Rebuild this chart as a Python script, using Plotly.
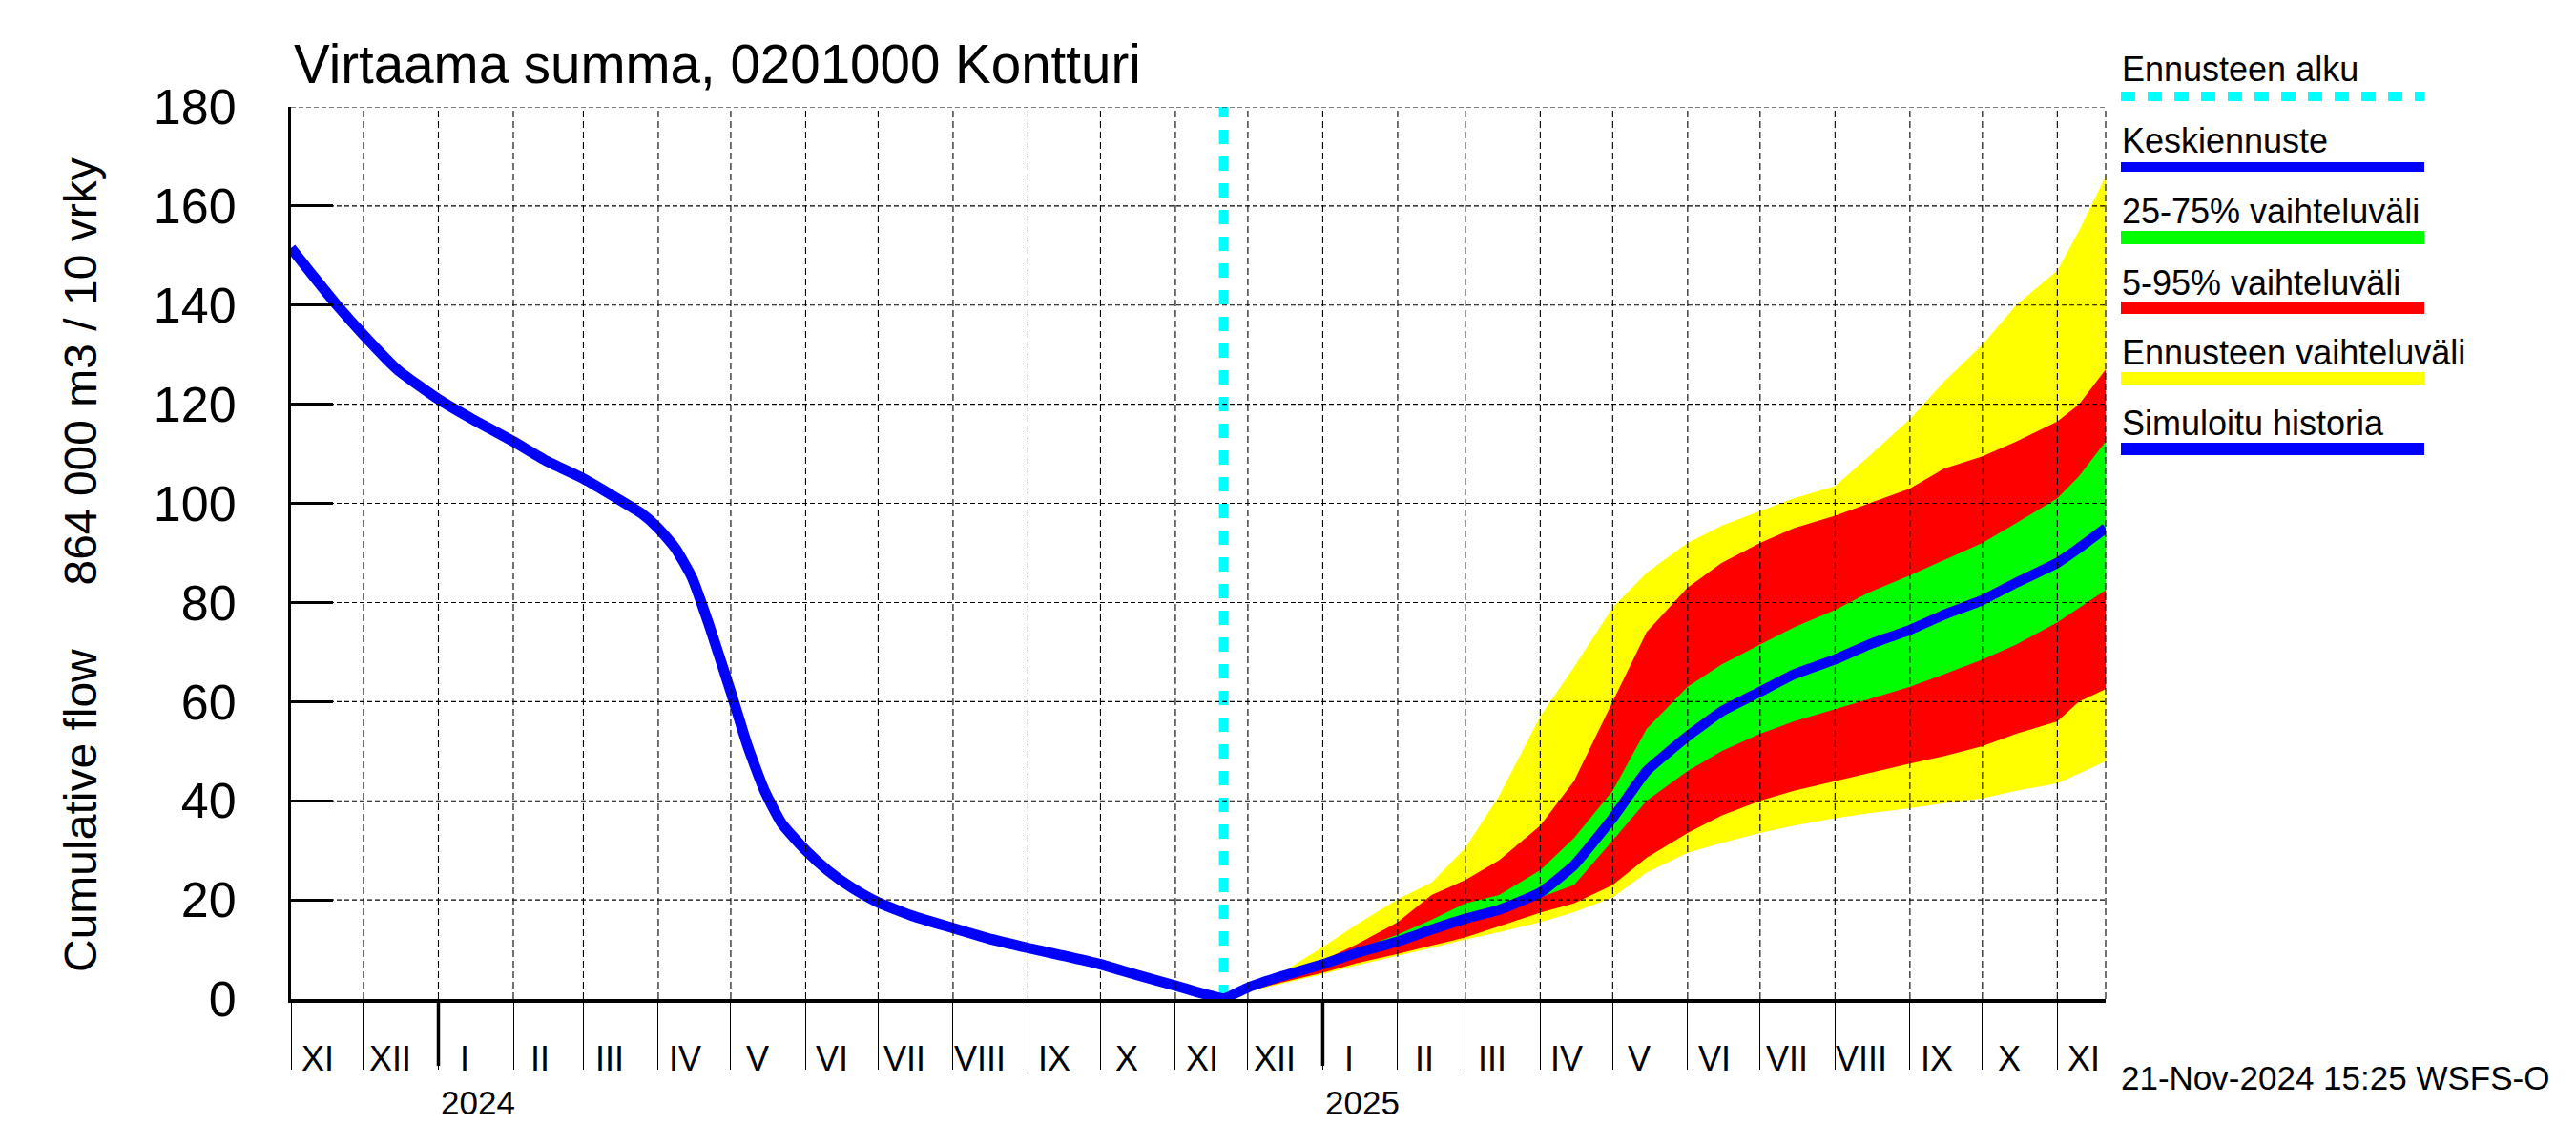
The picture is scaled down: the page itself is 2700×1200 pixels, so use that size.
import plotly.graph_objects as go
import pandas as pd

# ---------------- data ----------------
title_text = "Virtaama summa, 0201000 Kontturi"
y_title = "Cumulative flow\u00a0\u00a0\u00a0\u00a0\u00a0864 000 m3 / 10 vrky"
timestamp_text = "21-Nov-2024 15:25 WSFS-O"

hist_dates = ["2023-11-01", "2023-11-10", "2023-11-20", "2023-12-01", "2023-12-15",
              "2024-01-01", "2024-01-15", "2024-02-01", "2024-02-15", "2024-03-01",
              "2024-03-15", "2024-03-25", "2024-04-01", "2024-04-08", "2024-04-15",
              "2024-04-22", "2024-05-01", "2024-05-08", "2024-05-15", "2024-05-22",
              "2024-06-01", "2024-06-10", "2024-06-20", "2024-07-01", "2024-07-15",
              "2024-08-01", "2024-08-15", "2024-09-01", "2024-09-15", "2024-10-01",
              "2024-10-15", "2024-11-01", "2024-11-10", "2024-11-21"]
hist_values = [151.5, 146, 140, 134, 127,
               121, 117, 112.5, 108.5, 105,
               101, 98, 95, 91, 85,
               75.5, 62, 51, 42, 35.5,
               30, 26, 22.5, 19.5, 16.8,
               14.3, 12.3, 10.3, 8.8, 7,
               5, 2.7, 1.4, 0]

forecast_start = "2024-11-21"
fc_dates = ["2024-11-21", "2024-12-01", "2024-12-15", "2025-01-01", "2025-01-15",
            "2025-02-01", "2025-02-15", "2025-03-01", "2025-03-15", "2025-04-01",
            "2025-04-15", "2025-05-01", "2025-05-15", "2025-06-01", "2025-06-15",
            "2025-07-01", "2025-07-15", "2025-08-01", "2025-08-15", "2025-09-01",
            "2025-09-15", "2025-10-01", "2025-10-15", "2025-11-01", "2025-11-10",
            "2025-11-21"]
fc_max = [0, 2.0, 5.3, 10.5, 15.0, 20.1, 23.5, 30.5, 41, 57, 67, 79, 86, 92, 95.5,
          98.5, 101, 103.5, 109.5, 117, 124.5, 132, 140, 147, 155, 166]
fc_p95 = [0, 1.8, 4.5, 7.8, 11.0, 15.5, 21.0, 24, 28, 35, 44, 60, 74, 83, 88,
          92, 95, 97.5, 100, 103, 107, 109.5, 112.5, 116.5, 120, 127]
fc_p75 = [0, 1.5, 4, 7.3, 10, 13, 16, 19.3, 21, 26, 32.5, 42, 54.5, 63, 67.5,
          71.5, 75, 78.5, 82, 85.5, 88.5, 92, 96, 101, 105.5, 112.5]
fc_median = [0, 2.3, 4.6, 7, 9.3, 11.6, 14, 16.2, 18, 21.5, 27, 36.5, 46, 53, 58,
             62, 65.5, 68.5, 71.5, 74.5, 77.5, 80.5, 84, 88, 91, 95]
fc_p25 = [0, 2, 4.2, 6.6, 8.8, 11, 13.3, 15.5, 17.5, 20.5, 23, 32, 40, 46, 50,
          53.5, 56, 58.5, 60.5, 63, 65.5, 68.5, 71.5, 76, 79, 82.5]
fc_p05 = [0, 1.6, 3.3, 5.3, 7.2, 9.1, 10.8, 12.4, 14.6, 17.4, 19.3, 23, 28.5, 33.5, 37,
          40, 42, 44, 45.5, 47.5, 49, 51, 53.5, 56, 60, 62.5]
fc_min = [0, 1.5, 3.1, 5, 6.8, 8.7, 10.3, 12, 13.5, 15.5, 17.5, 20.5, 25.5, 29.5, 31.5,
          33.5, 35, 36.5, 37.5, 38.5, 39.5, 40.5, 42, 43.5, 45.5, 48]

x_start = "2023-11-01"
x_end = "2025-11-21"
month_labels = ["XI", "XII", "I", "II", "III", "IV", "V", "VI", "VII", "VIII", "IX", "X",
                "XI", "XII", "I", "II", "III", "IV", "V", "VI", "VII", "VIII", "IX", "X", "XI"]
year_labels = ["2024", "2025"]
y_ticks = [0, 20, 40, 60, 80, 100, 120, 140, 160, 180]

legend_labels = ["Ennusteen alku", "Keskiennuste", "25-75% vaihteluväli",
                 "5-95% vaihteluväli", "Ennusteen vaihteluväli", "Simuloitu historia"]
legend_colors = ["#00FFFF", "#0000FF", "#00FF00", "#FF0000", "#FFFF00", "#0000FF"]

# ---------------- layout geometry ----------------
W, H = 2700, 1200
L, R, T, B = 305, 2207, 112, 1047
PW, PH = R - L, B - T


def px2x(px):
    return (px - L) / PW


def py2y(py):
    return (B - py) / PH


FONT = "Liberation Sans, Arial, Helvetica, sans-serif"

fig = go.Figure()


def band(upper, lower, color):
    fig.add_trace(go.Scatter(
        x=fc_dates + fc_dates[::-1], y=upper + lower[::-1],
        fill="toself", fillcolor=color, mode="lines", line=dict(width=0, color=color),
        hoverinfo="skip", showlegend=False))


band(fc_max, fc_min, "#FFFF00")
band(fc_p95, fc_p05, "#FF0000")
band(fc_p75, fc_p25, "#00FF00")

# forecast start line
fig.add_trace(go.Scatter(x=[forecast_start, forecast_start], y=[y_ticks[0], y_ticks[-1]],
                         mode="lines", line=dict(color="#00FFFF", width=10, dash="15px,13px"),
                         showlegend=False, hoverinfo="skip"))

# median
fig.add_trace(go.Scatter(x=fc_dates, y=fc_median, mode="lines",
                         line=dict(color="#0000FF", width=10.5, shape="spline", smoothing=0.4),
                         showlegend=False))
# history
fig.add_trace(go.Scatter(x=hist_dates, y=hist_values, mode="lines",
                         line=dict(color="#0000FF", width=11, shape="spline", smoothing=0.5),
                         showlegend=False))

shapes = []
months = pd.date_range(x_start, "2025-11-01", freq="MS")
for m in months[1:]:
    shapes.append(dict(type="line", xref="x", yref="paper", x0=m, x1=m, y0=0, y1=1,
                       line=dict(color="black", width=1.1, dash="7px,4px"), layer="above"))
for v in y_ticks[1:]:
    shapes.append(dict(type="line", xref="paper", yref="y", x0=0, x1=1, y0=v, y1=v,
                       line=dict(color="black", width=1.1, dash="5px,3px"), layer="above"))
shapes.append(dict(type="line", xref="paper", yref="paper", x0=1, x1=1, y0=0, y1=1,
                   line=dict(color="black", width=1.1, dash="7px,4px"), layer="above"))
for m in months:
    if m.month == 1:
        shapes.append(dict(type="line", xref="x", yref="paper", x0=m, x1=m, y0=0,
                           y1=py2y(B + 70), line=dict(color="black", width=3.5), layer="above"))

# legend
leg_text_mid = [73, 147, 221, 296, 369, 443]
leg_line_y = [101, 175, 249, 322.5, 396.5, 470.5]
leg_line_w = [10, 10, 14, 13, 13, 13]
annotations = []
for i, lab in enumerate(legend_labels):
    dash = "15px,13px" if i == 0 else "solid"
    shapes.append(dict(type="line", xref="paper", yref="paper",
                       x0=px2x(2223), x1=px2x(2541), y0=py2y(leg_line_y[i]), y1=py2y(leg_line_y[i]),
                       line=dict(color=legend_colors[i], width=leg_line_w[i], dash=dash),
                       layer="above"))
    annotations.append(dict(text=lab, xref="paper", yref="paper", x=px2x(2222),
                            y=py2y(leg_text_mid[i]), xanchor="left", yanchor="middle",
                            showarrow=False, font=dict(family=FONT, size=36, color="black")))

for m, lab in zip(months, month_labels):
    annotations.append(dict(text=lab, xref="x", yref="paper", x=m + pd.Timedelta(days=11),
                            y=py2y(1109), xanchor="center", yanchor="middle", showarrow=False,
                            font=dict(family=FONT, size=36, color="black")))
jan_months = [m for m in months if m.month == 1]
for m, lab in zip(jan_months, year_labels):
    annotations.append(dict(text=lab, xref="x", yref="paper", x=m, xshift=1,
                            y=py2y(1155), xanchor="left", yanchor="middle", showarrow=False,
                            font=dict(family=FONT, size=35, color="black")))
annotations.append(dict(text=title_text, xref="paper", yref="paper", x=px2x(306), y=py2y(67),
                        xanchor="left", yanchor="middle", showarrow=False,
                        font=dict(family=FONT, size=56.5, color="black")))
annotations.append(dict(text=y_title, xref="paper", yref="paper", x=px2x(84), y=py2y(592),
                        xanchor="center", yanchor="middle", textangle=-90, showarrow=False,
                        font=dict(family=FONT, size=48, color="black")))
annotations.append(dict(text=timestamp_text, xref="paper", yref="paper", x=px2x(2221),
                        y=py2y(1129), xanchor="left", yanchor="middle", showarrow=False,
                        font=dict(family=FONT, size=35, color="black")))

fig.update_layout(
    width=W, height=H,
    margin=dict(l=L, r=W - R, t=T, b=H - B, pad=0),
    paper_bgcolor="white", plot_bgcolor="white",
    showlegend=False,
    shapes=shapes, annotations=annotations,
    xaxis=dict(type="date", range=[x_start, x_end], showgrid=False, zeroline=False,
               tickvals=list(months), ticks="outside", ticklen=70, tickwidth=1.2,
               tickcolor="black", showticklabels=False, showline=True, linewidth=4,
               linecolor="black"),
    yaxis=dict(range=[y_ticks[0], y_ticks[-1]], tickvals=y_ticks, ticks="inside", ticklen=44,
               tickwidth=3, tickcolor="black", showgrid=False, zeroline=False,
               showline=True, linewidth=3, linecolor="black",
               tickfont=dict(family=FONT, size=52, color="black"), ticklabelstandoff=44),
)

fig.write_html("out.html", config={"displayModeBar": False},
               post_script="document.body.style.margin='0px';")
